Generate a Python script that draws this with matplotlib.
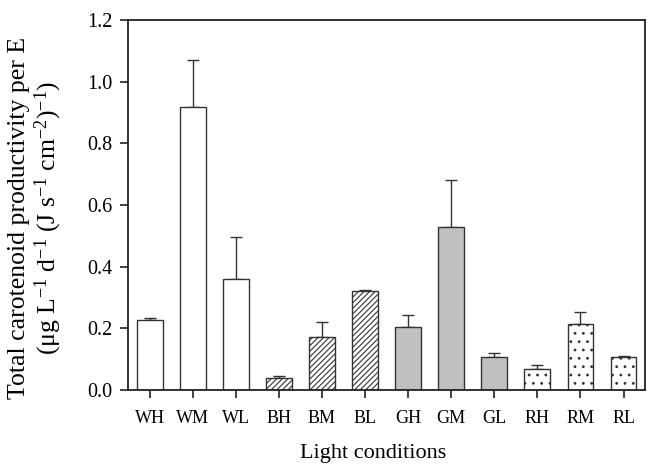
import matplotlib
matplotlib.use("Agg")
import matplotlib.pyplot as plt
import numpy as np

plt.rcParams["font.family"] = ["Liberation Serif", "DejaVu Serif"]
plt.rcParams["mathtext.fontset"] = "custom"
plt.rcParams["mathtext.rm"] = "Liberation Serif"
plt.rcParams["mathtext.it"] = "Liberation Serif:italic"
plt.rcParams["hatch.linewidth"] = 0.8

conditions = ["WH", "WM", "WL", "BH", "BM", "BL", "GH", "GM", "GL", "RH", "RM", "RL"]
values = [0.228, 0.919, 0.360, 0.040, 0.172, 0.320, 0.205, 0.530, 0.108, 0.068, 0.215, 0.108]
errors = [0.007, 0.152, 0.137, 0.006, 0.048, 0.005, 0.037, 0.150, 0.012, 0.012, 0.038, 0.004]
fills = ["white"] * 3 + ["white"] * 3 + ["#c0c0c0"] * 3 + ["white"] * 3
hatches = [""] * 3 + ["//////"] * 3 + [""] * 3 + [".."] * 3

fig = plt.figure(figsize=(6.47, 4.65), dpi=100)
ax = fig.add_axes([0.198, 0.161, 0.799, 0.796])

x = np.arange(len(conditions))
edge = "#333333"
for xi, v, e, fc, h in zip(x, values, errors, fills, hatches):
    ax.bar(xi, v, width=0.6, color=fc, edgecolor=edge, linewidth=1.0, hatch=h, zorder=2)
    ax.errorbar(xi, v, yerr=[[0], [e]], fmt="none", ecolor=edge, elinewidth=1.0,
                capsize=4.3, capthick=1.0, zorder=1)

ax.set_xlim(-0.5, 11.5)
ax.set_ylim(0, 1.2)
ax.set_yticks(np.arange(0, 1.21, 0.2))
ax.set_yticklabels([f"{t:.1f}" for t in np.arange(0, 1.21, 0.2)])
ax.set_xticks(x)
ax.set_xticklabels(conditions)
ax.tick_params(axis="both", direction="out", length=6, width=1.2, color="#222222")
ax.tick_params(axis="x", labelsize=13, pad=8)
ax.tick_params(axis="y", labelsize=14.5, pad=5)
for s in ax.spines.values():
    s.set_linewidth(1.3)
    s.set_color("#222222")

ax.set_xlabel("Light conditions", fontsize=16)
ax.xaxis.set_label_coords(0.474, -0.145)
ax.set_ylabel("Total carotenoid productivity per E\n"
              r"(μg L$^{-1}$ d$^{-1}$ (J s$^{-1}$ cm$^{-2}$)$^{-1}$)",
              fontsize=18.5, linespacing=1.1)
ax.yaxis.set_label_coords(-0.124, 0.465)

fig.savefig("out.png", dpi=100)
